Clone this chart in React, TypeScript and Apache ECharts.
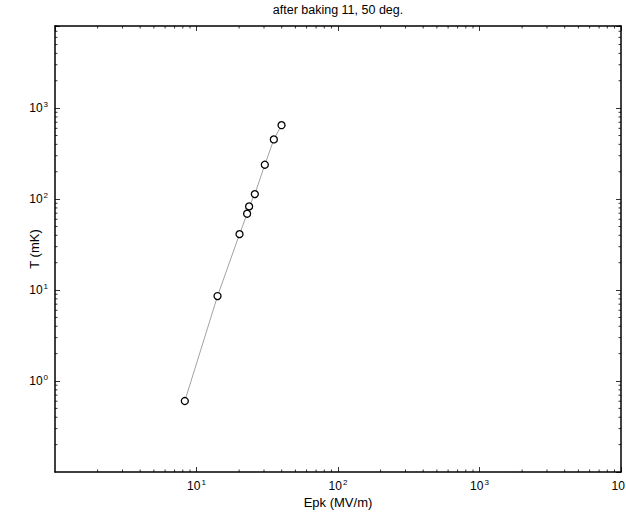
import React, { useEffect, useRef } from "react";
import * as echarts from "echarts";

const TITLE = "after baking 11, 50 deg.";
const X_NAME = "Epk (MV/m)";
const Y_NAME = "T (mK)";

// Measured points (Epk in MV/m, T in mK)
const X_EPK = [8.27, 14.08, 20.14, 22.79, 23.54, 25.84, 30.4, 35.2, 39.9];
const Y_T = [0.603, 8.59, 41.2, 69.1, 83.2, 113.5, 238.8, 453, 650];

// Axis ranges
const X_MIN = 1;
const X_MAX = 10000;
const Y_MIN = 0.1;
const Y_MAX = 8000;

// Minor (log) tick positions
const MINOR_MULT = [2, 3, 4, 5, 6, 7, 8, 9];
const X_DECADES = [1, 10, 100, 1000];
const Y_DECADES = [0.1, 1, 10, 100, 1000];

const FONT = "'Liberation Sans', Arial, Helvetica, sans-serif";

function powLabel(v: number): string {
  const e = Math.round(Math.log10(v));
  if (Math.abs(Math.log10(v) - e) > 1e-6) return "";
  return "{b|10}{s|" + e + "}";
}

const App: React.FC = () => {
  const ref = useRef<HTMLDivElement>(null);

  useEffect(() => {
    if (!ref.current) return;
    const chart = echarts.init(ref.current, undefined, { renderer: "svg" });

    const xMinor: number[][] = [];
    X_DECADES.forEach((d) =>
      MINOR_MULT.forEach((m) => {
        const v = d * m;
        if (v > X_MIN && v < X_MAX) xMinor.push([v, 1]);
      })
    );
    const yMinor: number[][] = [];
    Y_DECADES.forEach((d) =>
      MINOR_MULT.forEach((m) => {
        const v = d * m;
        if (v > Y_MIN && v <= Y_MAX) yMinor.push([10, v]);
      })
    );

    const labelRich = {
      b: { fontSize: 12, fontFamily: FONT, color: "#000", lineHeight: 16 },
      s: { fontSize: 8, fontFamily: FONT, color: "#000", verticalAlign: "top", lineHeight: 16, padding: [0, 0, 0, 1] },
    };

    const tickLen = 5;
    const minorLen = 2.5;

    const axisLine = { show: true, lineStyle: { color: "#000", width: 1.5 } };
    const axisTick = { show: true, inside: true, length: tickLen, lineStyle: { color: "#000", width: 0.8 } };

    const option: any = {
      animation: false,
      backgroundColor: "#fff",
      grid: {
        left: 55,
        right: 5,
        top: 26,
        bottom: 40,
        containLabel: false,
        outerBoundsMode: "none",
      },
      graphic: [
        {
          type: "text",
          x: 338,
          y: 10,
          style: {
            text: TITLE,
            align: "center",
            verticalAlign: "middle",
            fontSize: 12.5,
            fontFamily: FONT,
            fill: "#000",
          },
        },
      ],
      xAxis: [
        {
          type: "log",
          logBase: 10,
          min: X_MIN,
          max: X_MAX,
          position: "bottom",
          name: X_NAME,
          nameLocation: "middle",
          nameGap: 24,
          nameMoveOverlap: false,
          nameTextStyle: { fontSize: 13, fontFamily: FONT, color: "#000" },
          axisLine,
          axisTick,
          splitLine: { show: false },
          axisLabel: {
            show: true,
            showMinLabel: false,
            margin: 6,
            formatter: powLabel,
            rich: labelRich,
          },
        },
        {
          type: "log",
          logBase: 10,
          min: X_MIN,
          max: X_MAX,
          position: "top",
          axisLine,
          axisTick,
          splitLine: { show: false },
          axisLabel: { show: false },
        },
      ],
      yAxis: [
        {
          type: "log",
          logBase: 10,
          min: Y_MIN,
          max: Y_MAX,
          position: "left",
          name: Y_NAME,
          nameLocation: "middle",
          nameGap: 14,
          nameMoveOverlap: false,
          nameTextStyle: { fontSize: 13, fontFamily: FONT, color: "#000" },
          axisLine,
          axisTick,
          splitLine: { show: false },
          axisLabel: {
            show: true,
            showMinLabel: false,
            margin: 7,
            formatter: powLabel,
            rich: labelRich,
          },
        },
        {
          type: "log",
          logBase: 10,
          min: Y_MIN,
          max: Y_MAX,
          position: "right",
          axisLine,
          axisTick,
          splitLine: { show: false },
          axisLabel: { show: false },
        },
      ],
      series: [
        {
          type: "custom",
          xAxisIndex: 0,
          yAxisIndex: 0,
          silent: true,
          data: xMinor,
          renderItem: (params: any, api: any) => {
            const cs = params.coordSys;
            const px = api.coord([api.value(0), Y_MIN])[0];
            const bottom = cs.y + cs.height;
            const top = cs.y;
            const style = { stroke: "#000", lineWidth: 0.8 };
            return {
              type: "group",
              children: [
                { type: "line", shape: { x1: px, y1: bottom, x2: px, y2: bottom - minorLen }, style },
                { type: "line", shape: { x1: px, y1: top, x2: px, y2: top + minorLen }, style },
              ],
            };
          },
          z: 5,
        },
        {
          type: "custom",
          xAxisIndex: 0,
          yAxisIndex: 0,
          silent: true,
          data: yMinor,
          renderItem: (params: any, api: any) => {
            const cs = params.coordSys;
            const py = api.coord([X_MIN, api.value(1)])[1];
            const left = cs.x;
            const right = cs.x + cs.width;
            const style = { stroke: "#000", lineWidth: 0.8 };
            return {
              type: "group",
              children: [
                { type: "line", shape: { x1: left, y1: py, x2: left + minorLen, y2: py }, style },
                { type: "line", shape: { x1: right, y1: py, x2: right - minorLen, y2: py }, style },
              ],
            };
          },
          z: 5,
        },
        {
          type: "line",
          xAxisIndex: 0,
          yAxisIndex: 0,
          data: X_EPK.map((x, i) => [x, Y_T[i]]),
          symbol: "circle",
          symbolSize: 7,
          lineStyle: { color: "#8a8a8a", width: 0.8 },
          itemStyle: { color: "#fff", borderColor: "#000", borderWidth: 1.3 },
          z: 10,
        },
      ],
    };

    chart.setOption(option);
    return () => chart.dispose();
  }, []);

  return <div ref={ref} style={{ width: 626, height: 512, position: "absolute", left: 0, top: 0 }} />;
};

export default App;
